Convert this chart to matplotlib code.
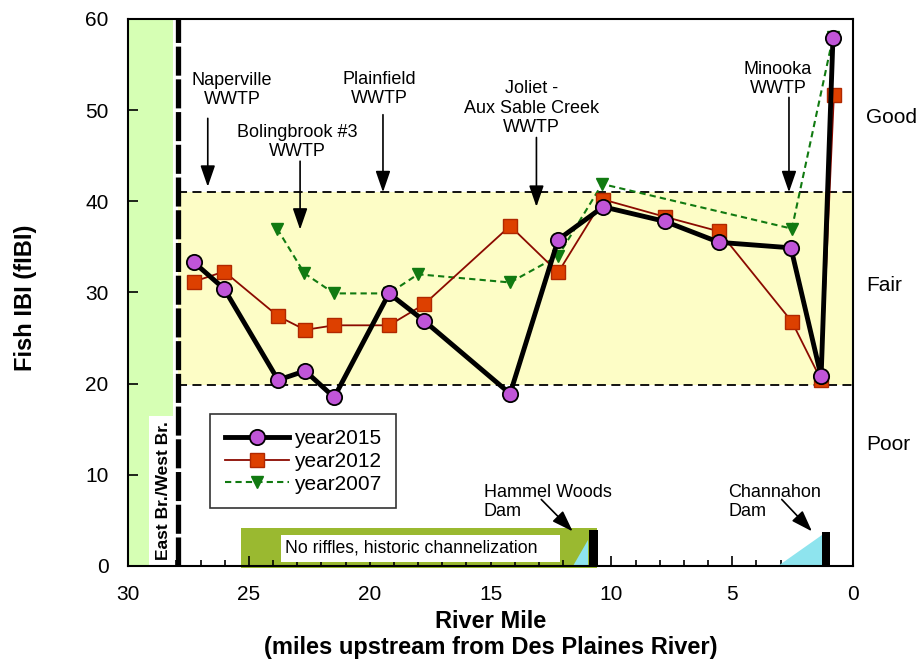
import matplotlib.pyplot as plt
from matplotlib.patches import Rectangle, Polygon
import numpy as np

plt.rcParams['font.family'] = ['Liberation Sans', 'DejaVu Sans']

# river mile of each sampling site and fIBI scores
miles_2015 = [27.27, 26.02, 23.79, 22.67, 21.47, 19.2, 17.75, 14.19, 12.2, 10.34, 7.78, 5.54, 2.57, 1.32, 0.83]
fibi_2015 = [33.3, 30.4, 20.4, 21.4, 18.5, 29.9, 26.9, 18.9, 35.8, 39.4, 37.8, 35.5, 34.9, 20.8, 57.9]

miles_2012 = [27.27, 26.02, 23.79, 22.67, 21.47, 19.2, 17.75, 14.19, 12.2, 10.34, 7.78, 5.54, 2.53, 1.32, 0.79]
fibi_2012 = [31.2, 32.3, 27.4, 25.9, 26.4, 26.4, 28.7, 37.3, 32.2, 40.2, 38.3, 36.7, 26.8, 20.4, 51.7]

miles_2007 = [23.83, 22.7, 21.47, 19.2, 18.0, 14.19, 12.2, 10.38, 2.53, 0.83]
fibi_2007 = [37.0, 32.1, 29.9, 29.9, 32.0, 31.1, 34.0, 41.9, 37.0, 58.0]

# WWTP outfalls: label, text x, text y, arrow x, arrow top, arrow tip
wwtp = [
    ("Naperville\nWWTP", 25.7, 52.2, 26.7, 49.1, 41.6),
    ("Bolingbrook #3\nWWTP", 23.0, 46.5, 22.88, 44.4, 36.9),
    ("Plainfield\nWWTP", 19.6, 52.3, 19.45, 49.5, 41.0),
    ("Joliet -\nAux Sable Creek\nWWTP", 13.3, 50.2, 13.1, 47.0, 39.4),
    ("Minooka\nWWTP", 3.1, 53.4, 2.65, 51.4, 41.0),
]

fair_low, fair_high = 19.8, 41.0
confluence = 27.93

fig = plt.figure(figsize=(9.19, 6.64), dpi=100)
ax = fig.add_axes([0.1393, 0.1476, 0.7889, 0.8238])

ax.set_xlim(30, 0)
ax.set_ylim(0, 60)

# East/West branch panel
ax.axvspan(30, 28.15, color='#d6ffb4', zorder=0, lw=0)
ax.axvline(confluence, color='black', lw=3.8, ls=(0, (5.5, 0.7)), zorder=3)
ax.add_patch(Rectangle((28.12, 0), 1.0, 16.5, facecolor='white', edgecolor='none', zorder=2))
ax.text(28.55, 8.3, "East Br./West Br.", rotation=90, ha='center', va='center',
        fontsize=12.5, fontweight='bold', zorder=4)

# fair band
ax.fill_between([confluence, 0], fair_low, fair_high, color='#fdfdc6', zorder=0, lw=0)
ax.hlines([fair_low, fair_high], confluence, 0, colors='black', linestyles=(0, (5, 3)), lw=1.3, zorder=1)

# channelized reach + dams
ax.add_patch(Rectangle((10.6, -0.25), 25.33 - 10.6, 4.45, facecolor='#9ab930',
                       edgecolor='none', clip_on=False, zorder=1))
ax.add_patch(Rectangle((12.12, 0.45), 23.67 - 12.12, 3.0, facecolor='white',
                       edgecolor='none', zorder=2))
ax.text(23.5, 1.95, "No riffles, historic channelization", ha='left', va='center',
        fontsize=12.7, zorder=3)
ax.add_patch(Polygon([[11.6, 0], [10.95, 0], [10.95, 2.9]], closed=True,
                     facecolor='#8ee4ee', edgecolor='none', zorder=2))
ax.add_patch(Rectangle((10.55, 0), 0.38, 3.9, facecolor='black', zorder=3))
ax.add_patch(Polygon([[3.1, 0], [1.3, 0], [1.3, 3.4]], closed=True,
                     facecolor='#8ee4ee', edgecolor='none', zorder=2))
ax.add_patch(Rectangle((0.95, 0), 0.35, 3.7, facecolor='black', zorder=3))

arrow = dict(arrowstyle='-|>,head_width=0.45,head_length=1.3', color='black', lw=1.2,
             shrinkA=0, shrinkB=0)
ax.annotate("", xy=(11.6, 3.8), xytext=(12.9, 7.3), arrowprops=arrow)
ax.text(15.27, 7.0, "Hammel Woods\nDam", ha='left', va='center', fontsize=13, linespacing=1.2)
ax.annotate("", xy=(1.7, 3.8), xytext=(2.95, 7.3), arrowprops=arrow)
ax.text(5.17, 7.0, "Channahon\nDam", ha='left', va='center', fontsize=13, linespacing=1.2)

for label, tx, ty, axx, ay0, ay1 in wwtp:
    ax.text(tx, ty, label, ha='center', va='center', fontsize=13, linespacing=1.2)
    ax.annotate("", xy=(axx, ay1), xytext=(axx, ay0), arrowprops=arrow)

# data series
ax.plot(miles_2007, fibi_2007, color='#117a11', lw=1.5, ls=(0, (3, 2)), marker='v',
        ms=9, mfc='#117a11', mec='#117a11', label='year2007', zorder=5)
ax.plot(miles_2012, fibi_2012, color='#8b0a00', lw=1.3, marker='s',
        ms=10, mfc='#dd4000', mec='#b02800', label='year2012', zorder=6)
ax.plot(miles_2015, fibi_2015, color='black', lw=3.5, marker='o',
        ms=11, mfc='#c055d8', mec='black', mew=1.3, label='year2015', zorder=7)

handles, labels = ax.get_legend_handles_labels()
leg = ax.legend(handles[::-1], labels[::-1], loc='upper left', bbox_to_anchor=(0.113, 0.277),
                fontsize=15, frameon=True, fancybox=False, handlelength=3.1,
                handletextpad=0.25, borderpad=0.7, labelspacing=0.18, borderaxespad=0)
leg.get_frame().set_edgecolor('black')
leg.get_frame().set_linewidth(1.2)
leg.set_zorder(8)

# quality classes
for name, yy in [("Good", 49.2), ("Fair", 30.8), ("Poor", 13.3)]:
    ax.text(-0.55, yy, name, ha='left', va='center', fontsize=15, clip_on=False)

ax.set_xticks(np.arange(0, 31, 5))
ax.set_xticks(np.arange(0, 31, 1), minor=True)
ax.set_yticks(np.arange(0, 61, 10))
ax.tick_params(axis='both', direction='in', labelsize=15, width=1.2, length=7, pad=14)
ax.tick_params(axis='x', which='minor', direction='in', length=4, width=1.2)
ax.tick_params(axis='y', which='both', right=False)
for s in ax.spines.values():
    s.set_linewidth(1.5)

ax.set_ylabel("Fish IBI (fIBI)", fontsize=17, fontweight='bold')
ax.yaxis.set_label_coords(-0.125, 0.49)
ax.set_xlabel("River Mile\n(miles upstream from Des Plaines River)", fontsize=17,
              fontweight='bold', linespacing=1.2)
ax.xaxis.set_label_coords(0.5, -0.08)

fig.savefig("out.png", dpi=100)
